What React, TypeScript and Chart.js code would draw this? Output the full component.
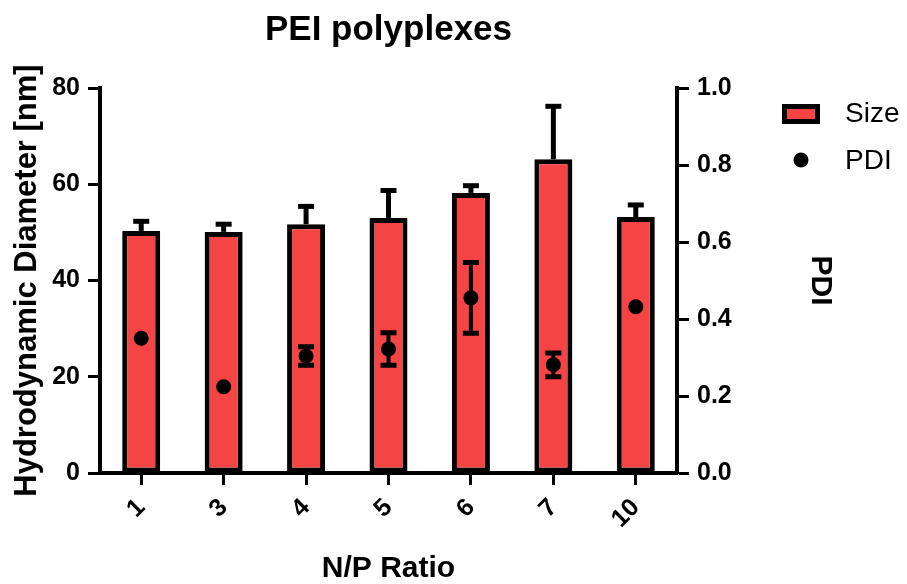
import React, { useEffect, useRef } from 'react';
import { Chart, registerables } from 'chart.js';

Chart.register(...registerables);

const categories = ['1', '3', '4', '5', '6', '7', '10'];
const sizeMean = [50.3, 50.1, 51.7, 53.0, 58.2, 65.2, 53.2];
const sizeSD = [2.0, 1.6, 3.7, 5.7, 1.5, 11.0, 2.5];
const pdiMean = [0.35, 0.224, 0.304, 0.322, 0.455, 0.281, 0.432];
const pdiSD = [0, 0, 0.024, 0.042, 0.092, 0.031, 0];

const FONT = "'Liberation Sans', Arial, Helvetica, sans-serif";
const RED = '#F44444';

const errorBarsPlugin = {
  id: 'errorBars',
  afterDatasetsDraw(chart: any) {
    const ctx = chart.ctx;
    const xs = chart.scales.x;
    const ys = chart.scales.y;
    const y1 = chart.scales.y1;
    ctx.save();
    ctx.strokeStyle = '#000';
    ctx.lineCap = 'butt';
    sizeMean.forEach((m, i) => {
      const px = xs.getPixelForValue(i);
      const p0 = ys.getPixelForValue(m);
      const p1 = ys.getPixelForValue(m + sizeSD[i]);
      ctx.lineWidth = 5;
      ctx.beginPath();
      ctx.moveTo(px, p0);
      ctx.lineTo(px, p1);
      ctx.stroke();
      ctx.beginPath();
      ctx.moveTo(px - 8, p1);
      ctx.lineTo(px + 8, p1);
      ctx.stroke();
    });
    pdiMean.forEach((m, i) => {
      const sd = pdiSD[i];
      if (!sd) return;
      const px = xs.getPixelForValue(i);
      const pLo = y1.getPixelForValue(m - sd);
      const pHi = y1.getPixelForValue(m + sd);
      ctx.lineWidth = 4;
      ctx.beginPath();
      ctx.moveTo(px, pLo);
      ctx.lineTo(px, pHi);
      ctx.stroke();
      ctx.lineWidth = 5;
      ctx.beginPath();
      ctx.moveTo(px - 8, pLo);
      ctx.lineTo(px + 8, pLo);
      ctx.moveTo(px - 8, pHi);
      ctx.lineTo(px + 8, pHi);
      ctx.stroke();
    });
    ctx.restore();
  },
};

const legendPlugin = {
  id: 'customLegend',
  afterDraw(chart: any) {
    const ctx = chart.ctx;
    ctx.save();
    ctx.fillStyle = '#000';
    ctx.fillRect(774, 96, 38, 20);
    ctx.fillStyle = RED;
    ctx.fillRect(779, 101, 28, 10);
    ctx.fillStyle = '#000';
    ctx.beginPath();
    ctx.arc(793, 152, 7.5, 0, Math.PI * 2);
    ctx.fill();
    ctx.font = `28px ${FONT}`;
    ctx.textAlign = 'left';
    ctx.textBaseline = 'middle';
    ctx.fillText('Size', 837, 106);
    ctx.fillText('PDI', 837, 153);
    ctx.restore();
  },
};

export default function App() {
  const canvasRef = useRef<HTMLCanvasElement | null>(null);

  useEffect(() => {
    if (!canvasRef.current) return;
    const tickFont = { family: FONT, size: 25, weight: 'bold' as const };
    const chart = new Chart(canvasRef.current, {
      type: 'bar',
      data: {
        labels: categories,
        datasets: [
          {
            type: 'bar',
            label: 'Size',
            data: sizeMean,
            backgroundColor: RED,
            borderColor: '#000',
            borderWidth: 5,
            borderSkipped: false,
            barPercentage: 0.461,
            categoryPercentage: 1,
            yAxisID: 'y',
            order: 1,
          } as any,
          {
            type: 'line',
            label: 'PDI',
            data: pdiMean,
            showLine: false,
            pointRadius: 7.5,
            pointBackgroundColor: '#000',
            pointBorderColor: '#000',
            pointBorderWidth: 0,
            yAxisID: 'y1',
            order: 0,
          } as any,
        ],
      },
      options: {
        responsive: false,
        animation: false,
        layout: { padding: 0 },
        plugins: {
          legend: { display: false },
          tooltip: { enabled: false },
          title: {
            display: true,
            text: 'PEI polyplexes',
            fullSize: false,
            color: '#000',
            font: { family: FONT, size: 35, weight: 'bold', lineHeight: 1.2 },
            padding: { top: 1, bottom: 37 },
          },
        },
        scales: {
          x: {
            offset: true,
            grid: { offset: false, drawOnChartArea: false, tickLength: 12, tickWidth: 3, tickColor: '#000' },
            border: { display: true, width: 4, color: '#000' },
            ticks: { color: '#000', font: tickFont, minRotation: 45, maxRotation: 45, padding: 8, autoSkip: false },
            title: {
              display: true,
              text: 'N/P Ratio',
              color: '#000',
              font: { family: FONT, size: 30, weight: 'bold', lineHeight: 0.5 },
              padding: { top: 0, bottom: 7.5 },
            },
            afterFit(s: any) {
              s.height = 111;
            },
          },
          y: {
            position: 'left',
            min: 0,
            max: 80,
            grid: { drawOnChartArea: false, tickLength: 12, tickWidth: 3, tickColor: '#000' },
            border: { display: true, width: 4, color: '#000' },
            ticks: { stepSize: 20, color: '#000', font: tickFont, padding: 8 },
            title: {
              display: true,
              text: 'Hydrodynamic Diameter [nm]',
              color: '#000',
              font: { family: FONT, size: 31, weight: 'bold', lineHeight: 1 },
              padding: { top: 4, bottom: 0 },
            },
            afterFit(s: any) {
              s.width = 92;
            },
          },
          y1: {
            position: 'right',
            min: 0,
            max: 1,
            grid: { drawOnChartArea: false, tickLength: 12, tickWidth: 3, tickColor: '#000' },
            border: { display: true, width: 4, color: '#000' },
            ticks: {
              stepSize: 0.2,
              color: '#000',
              font: tickFont,
              padding: 8,
              callback: (v: any) => Number(v).toFixed(1),
            },
            title: {
              display: true,
              text: 'PDI',
              color: '#000',
              font: { family: FONT, size: 30, weight: 'bold', lineHeight: 1 },
              padding: { top: 64, bottom: 0 },
            },
            afterFit(s: any) {
              s.width = 222;
            },
          },
        },
      } as any,
      plugins: [errorBarsPlugin, legendPlugin],
    });
    return () => chart.destroy();
  }, []);

  return (
    <div style={{ width: 891, height: 576 }}>
      <canvas ref={canvasRef} width={891} height={576} style={{ display: 'block' }} />
    </div>
  );
}
